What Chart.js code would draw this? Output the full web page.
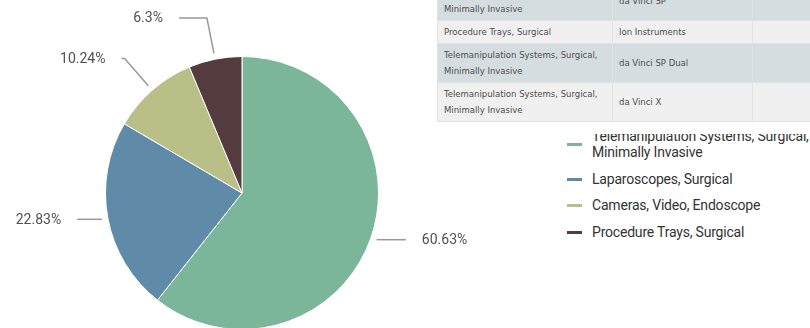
<!DOCTYPE html>
<html>
<head>
<meta charset="utf-8">
<script src="https://cdn.jsdelivr.net/npm/chart.js@4/dist/chart.umd.min.js"></script>
<style>
  html, body { margin: 0; padding: 0; background: #fff; width: 810px; height: 328px; overflow: hidden; position: relative; }
  #pieWrap { position: absolute; left: 0; top: 0; width: 480px; height: 400px; }
  #legend { position: absolute; left: 567px; top: 128px; margin: 0; padding: 0; list-style: none;
            font: 14px "Liberation Sans Narrow", "Roboto", sans-serif; letter-spacing: -0.2px; color: #333; z-index: 1; }
  #legend li { position: relative; padding-left: 25px; width: 240px; line-height: 16px; margin-bottom: 10.5px; }
  #legend li span.mark { position: absolute; left: 0; top: 50%; width: 15px; height: 3px; margin-top: -1px; }
  /* panel holding the table, white band under it */
  #tablePanel { position: absolute; left: 437px; top: -18px; width: 440px; padding-bottom: 12px; background: #fff; z-index: 2; }
  #products { width: 440px; border-collapse: collapse; table-layout: fixed;
              font: 8.5px "DejaVu Sans", Verdana, sans-serif; color: #4d4d4d; }
  #products td { padding: 3px 6px; line-height: 16px; vertical-align: middle;
                 border-right: 1px solid #e2e2e2; border-bottom: 1px solid #e2e2e2; }
  #products td:first-child { border-left: 1px solid #e2e2e2; }
  #products tr:nth-child(odd) td { background: #d6dde0; }
  #products tr:nth-child(even) td { background: #f0f0f0; }
</style>
</head>
<body>
<div id="pieWrap"><canvas id="pie"></canvas></div>
<div id="tablePanel">
  <table id="products">
    <colgroup><col style="width:175px"><col style="width:140px"><col style="width:125px"></colgroup>
    <tbody></tbody>
  </table>
</div>
<ul id="legend"></ul>
<script>
// product categories and their share of the total (percent)
const categories = [
  "Telemanipulation Systems, Surgical, Minimally Invasive",
  "Laparoscopes, Surgical",
  "Cameras, Video, Endoscope",
  "Procedure Trays, Surgical"
];
const shares = [60.63, 22.83, 10.24, 6.3];
const sliceColors = ["#7bb59a", "#5f8aa8", "#b9bf86", "#543c3e"];

// product table rows: category, product, (empty last column)
const rowCategories = [
  "Telemanipulation Systems, Surgical, Minimally Invasive",
  "Procedure Trays, Surgical",
  "Telemanipulation Systems, Surgical, Minimally Invasive",
  "Telemanipulation Systems, Surgical, Minimally Invasive"
];
const rowProducts = ["da Vinci SP", "Ion Instruments", "da Vinci SP Dual", "da Vinci X"];

// build table
var tbody = document.querySelector("#products tbody");
rowCategories.forEach(function (cat, i) {
  var tr = document.createElement("tr");
  [cat, rowProducts[i], ""].forEach(function (txt) {
    var td = document.createElement("td");
    td.textContent = txt;
    tr.appendChild(td);
  });
  tbody.appendChild(tr);
});

// build legend
var legend = document.getElementById("legend");
categories.forEach(function (cat, i) {
  var li = document.createElement("li");
  var mark = document.createElement("span");
  mark.className = "mark";
  mark.style.background = sliceColors[i];
  li.appendChild(mark);
  li.appendChild(document.createTextNode(cat));
  legend.appendChild(li);
});

// outside labels with bent leader lines
var leaderLabels = {
  id: "leaderLabels",
  afterDatasetsDraw: function (chart) {
    var ctx = chart.ctx;
    var meta = chart.getDatasetMeta(0);
    ctx.save();
    ctx.font = '14px "Liberation Sans Narrow", "Roboto", sans-serif';
    ctx.textBaseline = "middle";
    meta.data.forEach(function (arc, i) {
      var p = arc.getProps(["x", "y", "startAngle", "endAngle", "outerRadius"], true);
      var mid = (p.startAngle + p.endAngle) / 2;
      var cos = Math.cos(mid), sin = Math.sin(mid);
      var side = cos < 0 ? -1 : 1;
      var r = p.outerRadius;
      var sx = p.x + (r + 6) * cos, sy = p.y + (r + 6) * sin;
      // steep slices get a radial run before the horizontal part
      var reach = Math.abs(sin) > 0.5 ? r + 42 : r + 6;
      var bx = p.x + reach * cos, by = p.y + reach * sin;
      var endR = r + 26 + 24 * Math.abs(sin);
      var dy = by - p.y;
      var hx = p.x + side * Math.sqrt(Math.max(endR * endR - dy * dy, 0));
      if (side * (hx - bx) < 3) hx = bx + side * 3;

      ctx.strokeStyle = "#999";
      ctx.lineWidth = 1.5;
      ctx.beginPath();
      ctx.moveTo(sx, sy);
      ctx.lineTo(bx, by);
      ctx.lineTo(hx, by);
      ctx.stroke();

      ctx.fillStyle = "#505050";
      ctx.textAlign = side < 0 ? "right" : "left";
      ctx.fillText(shares[i] + "%", hx + side * 16, by + 1);
    });
    ctx.restore();
  }
};

new Chart(document.getElementById("pie"), {
  type: "pie",
  data: {
    labels: categories,
    datasets: [{
      data: shares,
      backgroundColor: sliceColors,
      borderColor: "#ffffff",
      borderWidth: 1
    }]
  },
  options: {
    responsive: true,
    maintainAspectRatio: false,
    animation: false,
    layout: { padding: { left: 105, right: 101, top: 56, bottom: 70 } },
    plugins: {
      legend: { display: false },
      tooltip: { enabled: false }
    }
  },
  plugins: [leaderLabels]
});
</script>
</body>
</html>
